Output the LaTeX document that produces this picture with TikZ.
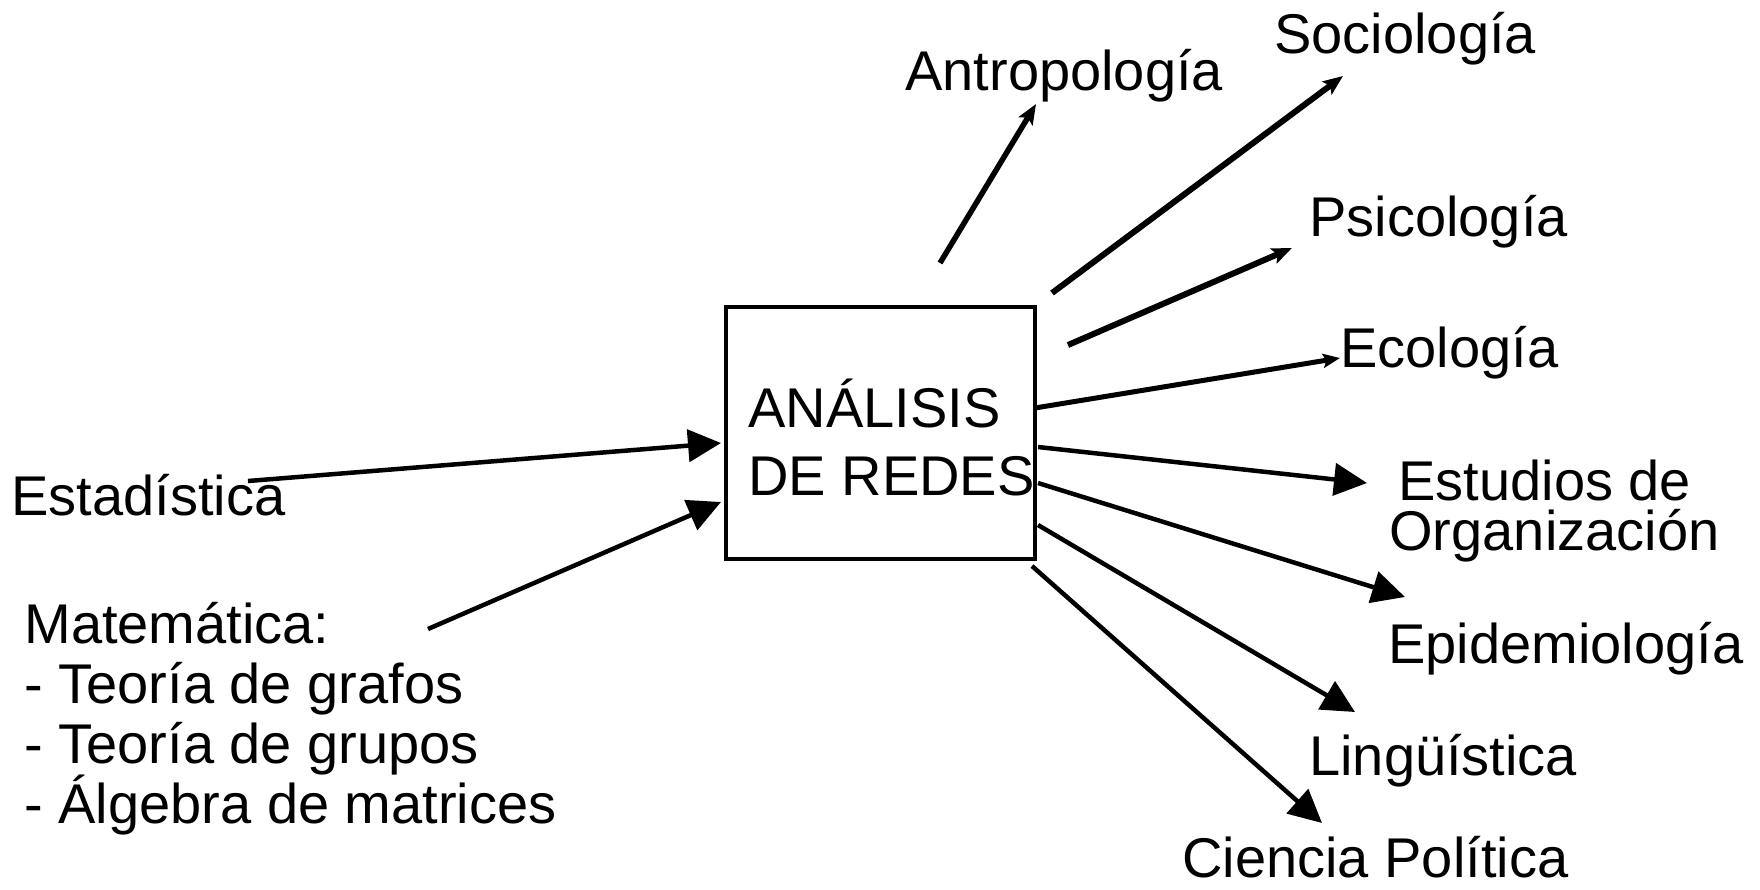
\documentclass[tikz,border=0pt]{standalone}
\usepackage{fontspec}
\setmainfont{Liberation Sans}
\usetikzlibrary{arrows.meta}
\setlength{\lineskiplimit}{-50pt}

\begin{document}
\begin{tikzpicture}[x=0.5pt, y=-0.5pt, every node/.style={inner sep=0pt},
                    area node/.style={anchor=base west, align=left,
                      font=\fontsize{28pt}{30pt}\selectfont},
                    main node/.style={draw, line width=2.25pt, minimum width=154.5pt, minimum height=126pt},
                    big arrow/.style={line width=2.25pt, -{Triangle[length=16.5pt, width=16pt]}},
                    small arrow/.style={line width=2.75pt, -{Stealth[length=10pt, width=8pt, inset=2pt]}}]

  \useasboundingbox (0,0) rectangle (1760,889);

  \node[main node] (redes) at (880.5,433) {};
  \node[area node, font=\fontsize{28pt}{34pt}\selectfont] (titulo) at (748,495) {ANÁLISIS\\DE REDES};

  \node[area node] (estad) at (11,515) {Estadística};
  \node[area node] (mate) at (24,823) {Matemática:\\- Teoría de grafos\\- Teoría de grupos\\- Álgebra de matrices};
  \node[area node] (antro) at (905,90) {Antropología};
  \node[area node] (socio) at (1274,53) {Sociología};
  \node[area node] (psico) at (1309,236) {Psicología};
  \node[area node] (eco) at (1340,367) {Ecología};
  \node[area node, font=\fontsize{28pt}{25pt}\selectfont] (orga) at (1389,550) {\hspace*{4.5pt}Estudios de\\Organización};
  \node[area node] (epi) at (1388,663) {Epidemiología};
  \node[area node] (ling) at (1309,775) {Lingüística};
  \node[area node] (polit) at (1182,877) {Ciencia Política};

  % arrow ends
  \foreach \n/\x/\y in {estad s/248/481, estad t/721/443, mate s/428/629, mate t/721/502,
                        antro s/940/263, antro t/1036/104, socio s/1052/293, socio t/1343/76,
                        psico s/1068/345, psico t/1292/248, eco s/1035/408, eco t/1340/358,
                        orga s/1038/447, orga t/1367/483, epi s/1038/483, epi t/1405/597,
                        ling s/1038/525, ling t/1355/712, polit s/1032/566, polit t/1322/823}
    \coordinate (\n) at (\x,\y);

  \path[big arrow]
    (estad s) edge (estad t)
    (mate s) edge (mate t)
    (orga s) edge (orga t)
    (epi s) edge (epi t)
    (ling s) edge (ling t)
    (polit s) edge (polit t)
;
  \path[small arrow]
    (antro s) edge (antro t)
    (socio s) edge [line width=3pt] (socio t)
    (psico s) edge [line width=3pt] (psico t)
    (eco s) edge [line width=2.5pt, -{Stealth[length=8.5pt, width=7pt, inset=1.5pt]}] (eco t)
;
\end{tikzpicture}
\end{document}
